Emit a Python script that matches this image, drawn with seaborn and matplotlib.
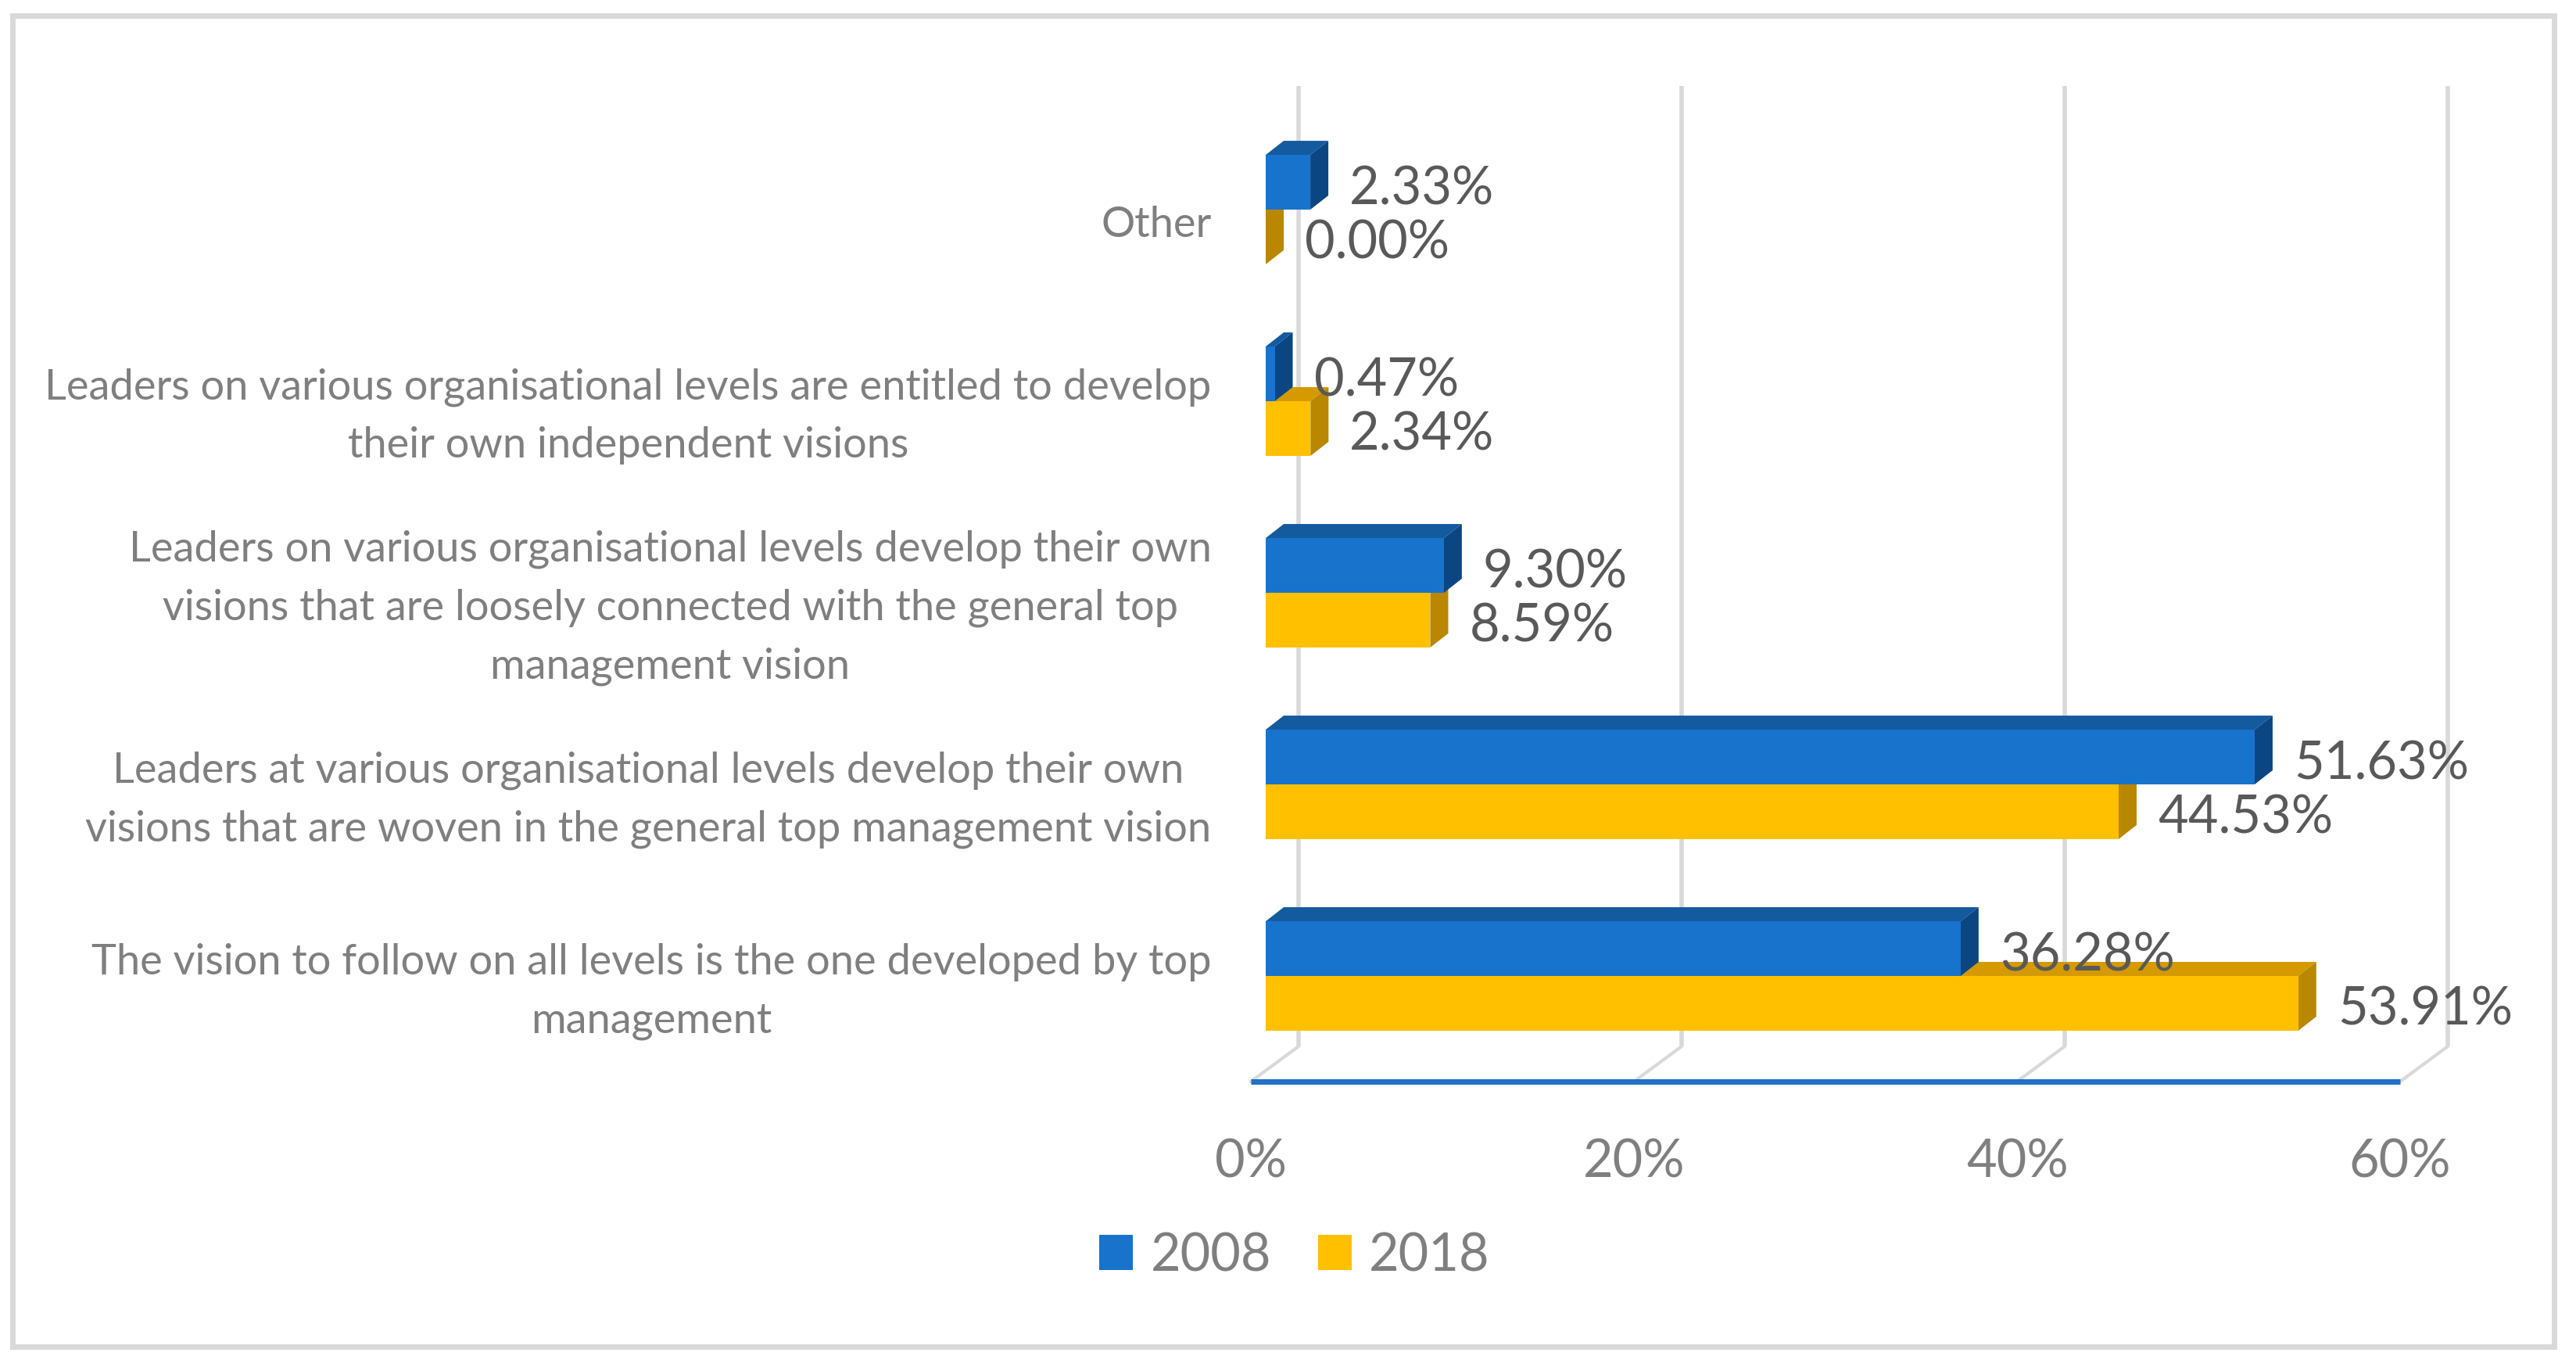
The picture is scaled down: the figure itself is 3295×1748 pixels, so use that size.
import matplotlib
matplotlib.use("Agg")
import matplotlib.pyplot as plt
import matplotlib.transforms as mtransforms
from matplotlib.patches import Polygon, Rectangle, Patch
import seaborn as sns
import pandas as pd

# data
categories = [
    "Other",
    "Leaders on various organisational levels are entitled to develop\ntheir own independent visions",
    "Leaders on various organisational levels develop their own\nvisions that are loosely connected with the general top\nmanagement vision",
    "Leaders at various organisational levels develop their own\nvisions that are woven in the general top management vision",
    "The vision to follow on all levels is the one developed by top\nmanagement",
]
years = ["2008", "2018"]
values_2008 = [2.33, 0.47, 9.30, 51.63, 36.28]
values_2018 = [0.00, 2.34, 8.59, 44.53, 53.91]
x_ticks = [0, 20, 40, 60]
x_tick_labels = ["0%", "20%", "40%", "60%"]

front_colors = {"2008": "#1873CC", "2018": "#FFC000"}
top_colors = {"2008": "#145A9F", "2018": "#D49A00"}
side_colors = {"2008": "#0B4683", "2018": "#BA8700"}

df = pd.DataFrame({
    "category": categories * 2,
    "year": [years[0]] * len(categories) + [years[1]] * len(categories),
    "value": values_2008 + values_2018,
})

sns.set_theme(style="white")
plt.rcParams["font.family"] = ["Lato", "DejaVu Sans"]

W, H, DPI = 3295, 1748, 100
fig = plt.figure(figsize=(W / DPI, H / DPI), dpi=DPI)
fig.patch.set_facecolor("white")

# axes = front plane of the bars, 0..60 %
left_px, px_per_pct = 1619, 24.5
top_px, bottom_px = 110, 1383
row_px = 245
ax = fig.add_axes([left_px / W, 1 - bottom_px / H, 60 * px_per_pct / W, (bottom_px - top_px) / H])

sns.barplot(data=df, x="value", y="category", hue="year", order=categories,
            hue_order=years, palette=front_colors, orient="h", width=0.571,
            saturation=1, linewidth=0, legend=False, ax=ax)

y_top = -(268 - top_px) / row_px
y_front_floor = 4 + (bottom_px - 1248) / row_px
y_back_floor = 4 + (1338 - 1248) / row_px
ax.set_xlim(0, 60)
ax.set_ylim(y_front_floor, y_top)

# 3D look
DX = 23 / px_per_pct
DY = 18 / row_px
GDX = 42 / px_per_pct    # back wall
FDX = -19 / px_per_pct   # front of floor

for i, (cont, yr) in enumerate(zip(ax.containers, years)):
    zb = 4 - 2 * i   # 2008 bars drawn over the 2018 ones
    for bar in cont:
        x0, w = bar.get_x(), bar.get_width()
        yt, yb = bar.get_y(), bar.get_y() + bar.get_height()
        bar.set_zorder(zb + 1)
        top = Polygon([(x0, yt), (x0 + w, yt), (x0 + w + DX, yt - DY), (x0 + DX, yt - DY)],
                      closed=True, facecolor=top_colors[yr], edgecolor="none",
                      zorder=zb, clip_on=False)
        side = Polygon([(x0 + w, yt), (x0 + w + DX, yt - DY), (x0 + w + DX, yb - DY), (x0 + w, yb)],
                       closed=True, facecolor=side_colors[yr], edgecolor="none",
                       zorder=zb + 0.5, clip_on=False)
        ax.add_patch(top)
        ax.add_patch(side)
        ax.annotate(f"{w:.2f}%", xy=(x0 + w + DX, (yt + yb) / 2), xytext=(27, -9),
                    textcoords="offset pixels", ha="left", va="center",
                    fontsize=48, color="#595959", zorder=10, annotation_clip=False)

# gridlines on back wall + floor
for t in x_ticks:
    ax.plot([t + GDX, t + GDX], [y_top, y_back_floor], color="#D9D9D9", lw=4,
            zorder=1, clip_on=False, solid_capstyle="butt")
    ax.plot([t + GDX, t + FDX], [y_back_floor, y_front_floor], color="#D9D9D9", lw=3,
            zorder=1, clip_on=False)
ax.plot([FDX, 60 + FDX], [y_front_floor, y_front_floor], color="#1F70C8", lw=5,
        zorder=1.5, clip_on=False, solid_capstyle="butt")

for s in ax.spines.values():
    s.set_visible(False)
ax.set_xlabel("")
ax.set_ylabel("")
ax.grid(False)

ax.set_xticks(x_ticks)
ax.set_xticklabels(x_tick_labels)
ax.tick_params(axis="x", length=0, pad=52, labelsize=48, labelcolor="#7F7F7F")
shift_x = mtransforms.ScaledTranslation(-19 / DPI, 0, fig.dpi_scale_trans)
for lab in ax.get_xticklabels():
    lab.set_transform(lab.get_transform() + shift_x)

ax.set_yticks(range(len(categories)))
ax.set_yticklabels(categories, multialignment="center", linespacing=1.64)
ax.tick_params(axis="y", length=0, pad=50, labelsize=39, labelcolor="#7F7F7F")
for lab in ax.get_yticklabels():
    dy = -2 if "\n" in lab.get_text() else -15
    lab.set_transform(lab.get_transform() +
                      mtransforms.ScaledTranslation(0, dy / DPI, fig.dpi_scale_trans))

handles = [Patch(facecolor=front_colors[y], edgecolor="none", label=y) for y in years]
fig.legend(handles=handles, loc="center", bbox_to_anchor=(1656 / W, 1 - 1606 / H),
           ncol=2, frameon=False, fontsize=48, handlelength=0.65, handleheight=0.65,
           handletextpad=0.33, columnspacing=0.9, labelcolor="#7F7F7F")

fig.add_artist(Rectangle((16 / W, 1 - 1722 / H), (3267 - 16) / W, (1722 - 20) / H,
                         transform=fig.transFigure, fill=False, edgecolor="#D9D9D9",
                         linewidth=5))

fig.savefig("out.png", dpi=DPI, facecolor="white")
